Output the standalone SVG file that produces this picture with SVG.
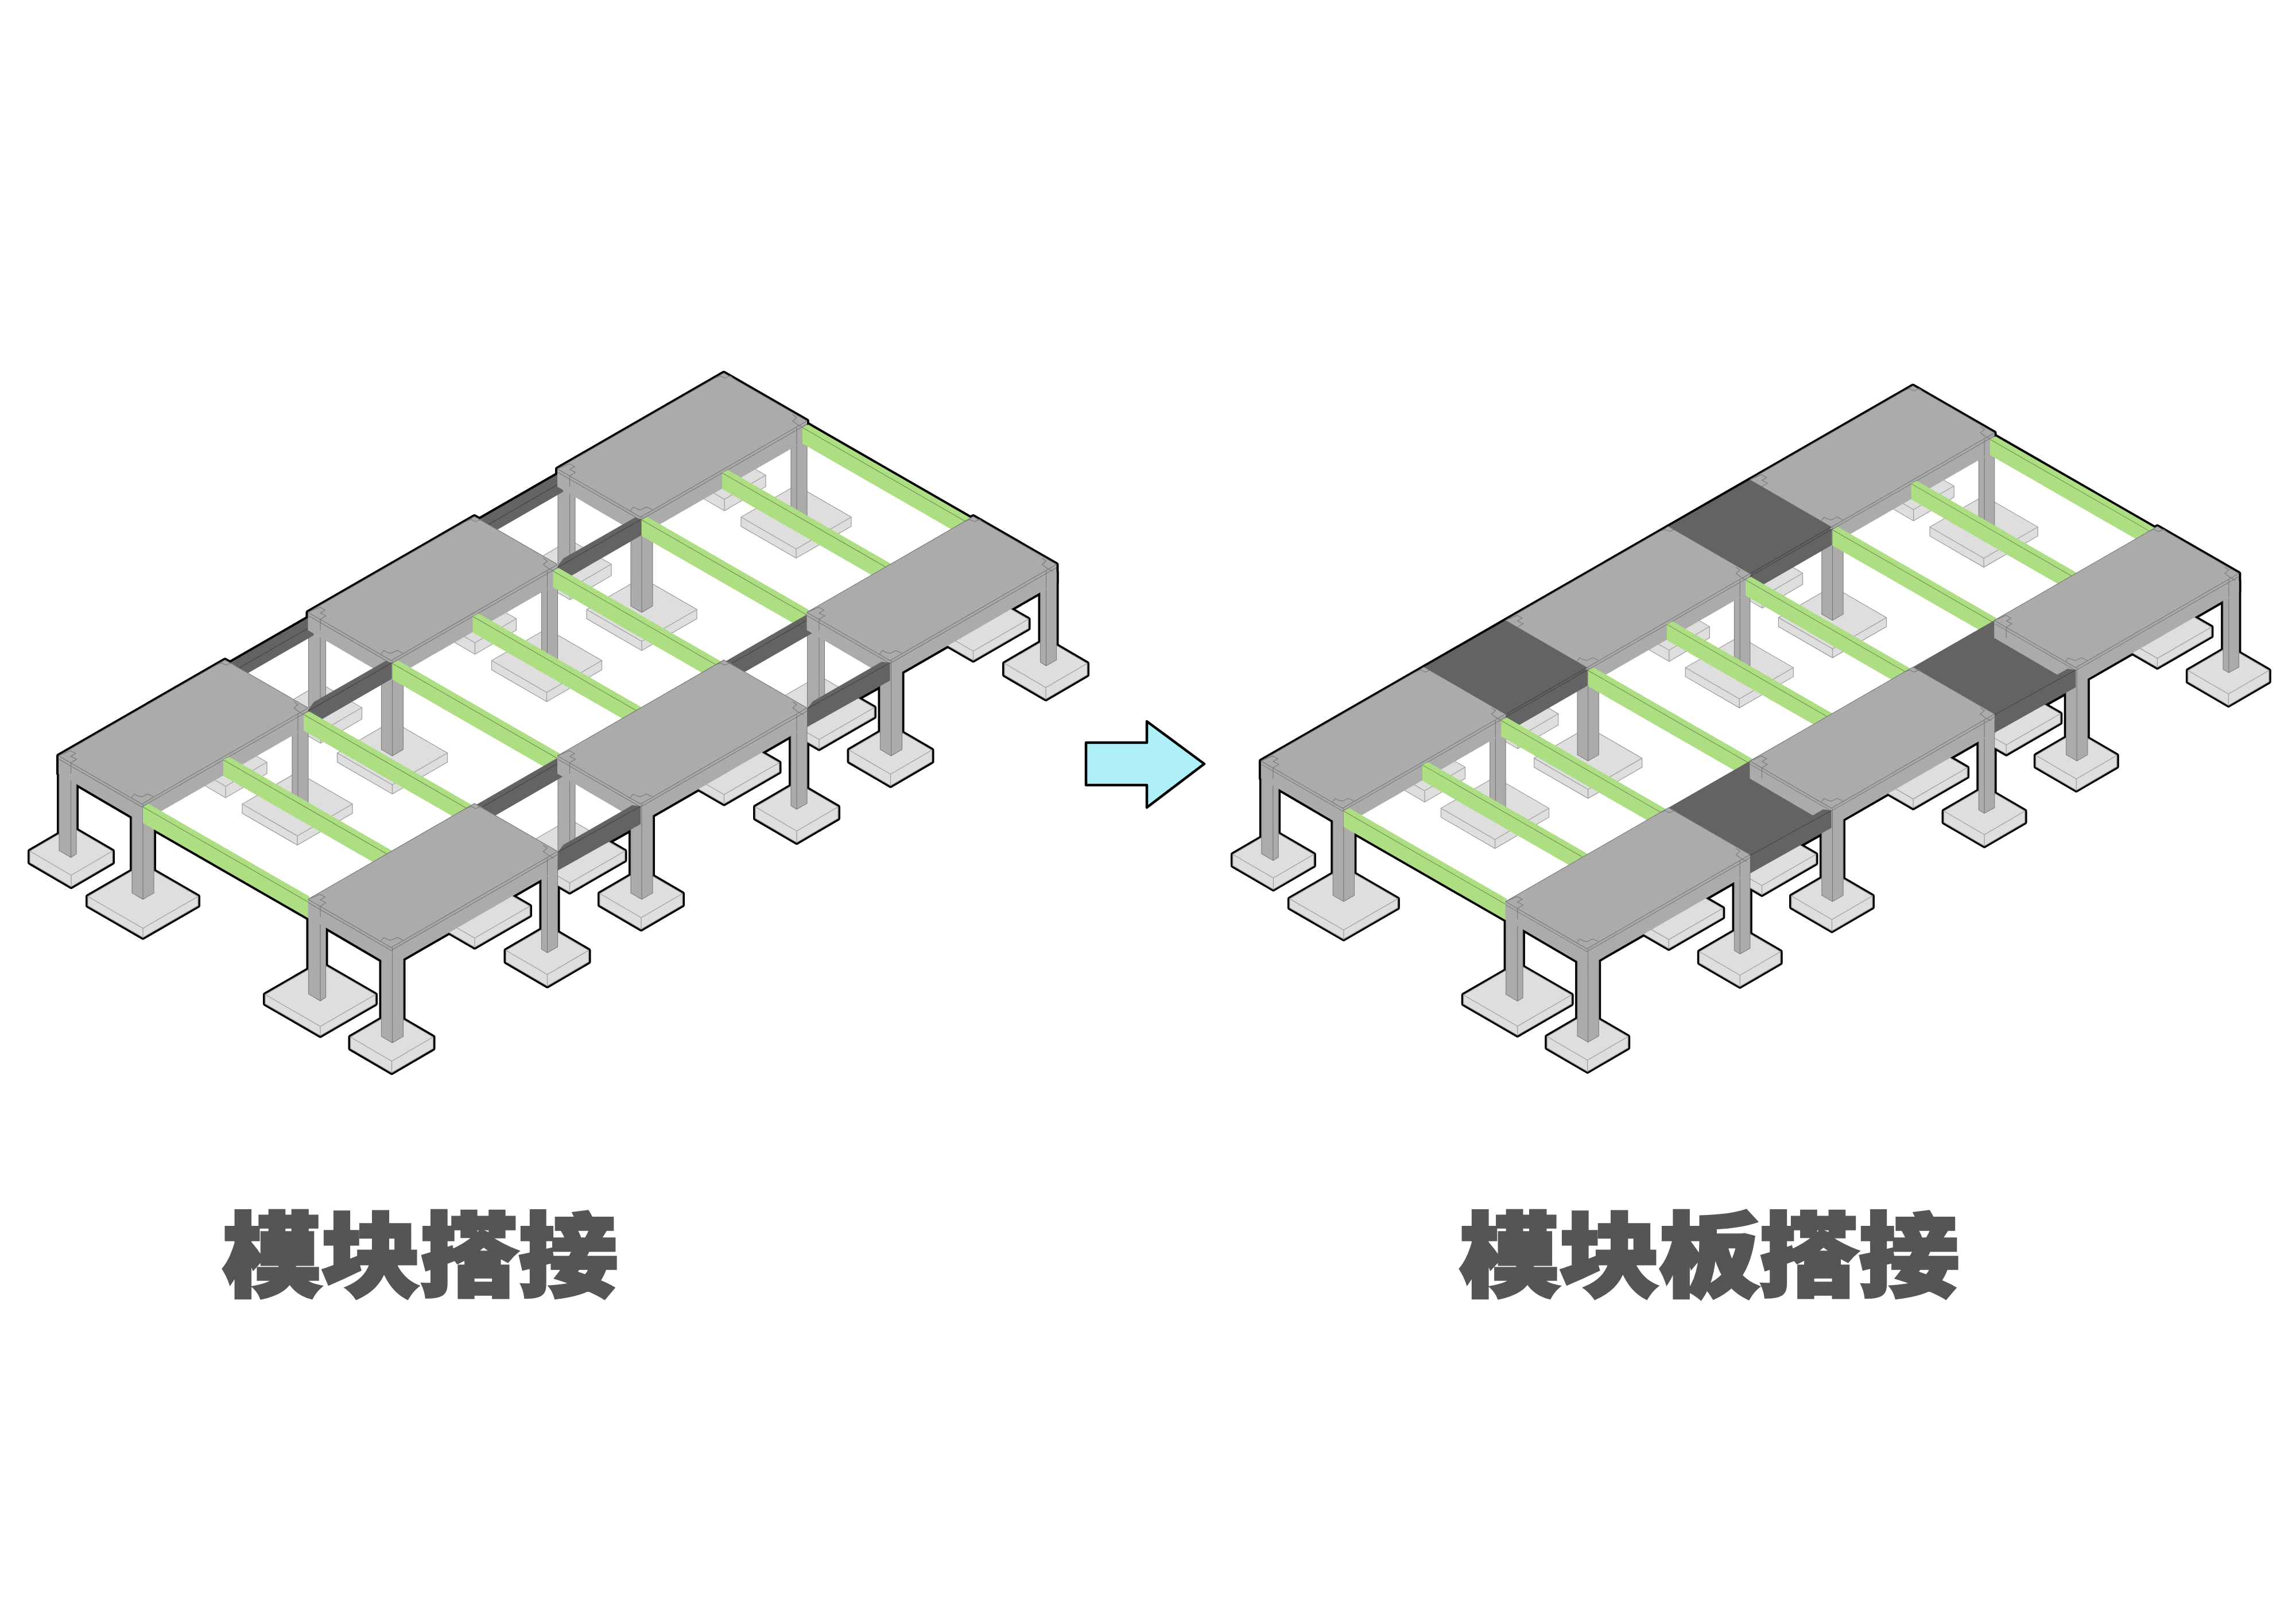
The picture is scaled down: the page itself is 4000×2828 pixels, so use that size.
<svg xmlns="http://www.w3.org/2000/svg" width="4000" height="2828" viewBox="0 0 4000 2828">
<style>
.gy{fill:#ABABAB}
.cs{fill:#ABABAB;stroke:#7d7d7d;stroke-width:1.1}
.ln{fill:none;stroke:#777;stroke-width:1.1}
.pad{fill:#DEDEDE;stroke:#A0A0A0;stroke-width:1.3}
.pl{fill:none;stroke:#A0A0A0;stroke-width:1.3}
.gr{fill:#AEDE82}
.grl{fill:none;stroke:#6E8F58;stroke-width:1.1}
.dk{fill:#636363}
.dkl{fill:none;stroke:#434343;stroke-width:1.1}
.lab{font-family:"Noto Sans CJK SC","Noto Sans CJK JP",sans-serif;font-weight:900;fill:#555;stroke:#555;stroke-width:6;stroke-linejoin:miter}
</style>
<defs>
<polygon id="po" points="-96,0 0,-55.5 96,0 96,16 0,71.5 -96,16"/>
<polygon id="qo" points="-72,0 0,-42 72,0 72,20 0,62 -72,20"/>
<g id="pb"><use href="#po" class="pad"/><path class="pl" d="M-96,0 0,55.5 96,0M0,55.5V71.5"/></g>
<g id="qb"><use href="#qo" class="pad"/><path class="pl" d="M-72,0 0,42 72,0M0,42V62"/></g>
<path id="co" d="M1,0H31V171L21.5,177 1,165ZM128,80H166V239L147,250 128,239ZM407,-70H435V83L417,93 407,87Z"/>
<g id="cols"><use href="#co" class="cs"/><path class="ln" d="M21.5,13V177M147,84V250M417,-73V93"/></g>
<polygon id="hx" points="0,0 290,-167 435,-83.5 435,-51 145,116 0,31"/>
<g id="mod"><use href="#hx" class="gy"/><path class="ln" d="M0,0 145,84 435,-83.5M0,0 290,-167 435,-83.5M1,6 145,89 435,-78M21.5,13V31M147,84V116M417,-73V-42M0,0 21,-9 30,-4 21.5,1 31.5,6 21.5,12M127,73 132,66.4 138.3,69.7 145,71.4 155,66.4 165,70.7M274,-158 284,-162 292,-158 301,-162 309,-156M410,-94.5 417,-89.5 410,-83.5 419,-76.5 429,-71.5"/></g>

<g id="greenShapes">
<polygon points="249,1406 259,1400.8 539,1561.9 539,1600.9 249,1434"/>
<polygon points="389,1324 399,1318.8 700,1492 700,1531 389,1352"/>
<polygon points="529,1245 539,1239.8 840,1413 840,1452 529,1273"/>
<polygon points="683.5,1156 693.5,1150.8 975,1312.8 975,1351.8 683.5,1184"/>
<polygon points="823.5,1074 833.5,1068.8 1134.5,1242 1134.5,1281 823.5,1102"/>
<polygon points="963.5,995 973.5,989.8 1274.5,1163 1274.5,1202 963.5,1023"/>
<polygon points="1118,906 1128,900.8 1409.5,1062.8 1409.5,1101.8 1118,934"/>
<polygon points="1258,824 1268,818.8 1569,992 1569,1031 1258,852"/>
<polygon points="1398,745 1408,739.8 1705,910.7 1705,949.7 1398,773"/>
</g>
<g id="greens"><use href="#greenShapes" class="gr"/>
<path class="grl" d="M249,1406 539,1572.9M389,1324 700,1503M529,1245 840,1424M683.5,1156 975,1323.8M823.5,1074 1134.5,1253M963.5,995 1274.5,1174M1118,906 1409.5,1073.8M1258,824 1569,1003M1398,745 1705,921.7"/></g>

<g id="d145Shapes"><polygon points="537,1236 547,1223 672,1151.5 682.5,1155 682.5,1183 537,1267"/><polygon points="971.5,986 981.5,973 1106.5,901.5 1117,905 1117,933 971.5,1017"/></g>
<g id="d579Shapes"><polygon points="971.5,1485 981.5,1472 1101.5,1403 1116,1405 1116,1436 971.5,1517"/><polygon points="1406,1235 1416,1222 1536,1153 1550.5,1155 1550.5,1186 1406,1267"/></g>
<g id="d0Shapes"><polygon points="392,1160 546.5,1071 546.5,1107 392,1196"/><polygon points="826.5,910 981,821 981,857 826.5,946"/></g>
<g id="d434Shapes"><polygon points="826.5,1404 981,1315 981,1353 826.5,1442"/><polygon points="1261,1154 1415.5,1065 1415.5,1103 1261,1192"/></g>
<g id="sBackShapes"><polygon points="392,1150 536.5,1067 681.5,1151 537,1234"/><polygon points="826.5,900 971,817 1116,901 971.5,984"/></g>
<g id="sFrontShapes"><polygon points="826.5,1400 971,1317 1116,1401 971.5,1484"/><polygon points="1261,1150 1405.5,1067 1550.5,1151 1406,1234"/></g>

<g id="silBase">
<use href="#po" x="1387" y="901"/><use href="#po" x="1118" y="1062"/><use href="#po" x="1695.5" y="1079"/><use href="#po" x="952.5" y="1151"/><use href="#po" x="1427" y="1233"/><use href="#po" x="683.5" y="1312"/><use href="#po" x="1261.5" y="1329"/><use href="#po" x="518" y="1401"/><use href="#po" x="992.5" y="1483"/><use href="#po" x="249" y="1562"/><use href="#po" x="827" y="1579"/><use href="#po" x="558" y="1733"/>
<use href="#qo" x="1262" y="828"/><use href="#qo" x="993" y="983"/><use href="#qo" x="827.5" y="1078"/><use href="#qo" x="1822" y="1156"/><use href="#qo" x="558.5" y="1233"/><use href="#qo" x="1551.5" y="1307"/><use href="#qo" x="393" y="1328"/><use href="#qo" x="1388" y="1406"/><use href="#qo" x="124" y="1483"/><use href="#qo" x="1117" y="1557"/><use href="#qo" x="953.5" y="1656"/><use href="#qo" x="682.5" y="1807"/>
<use href="#co" x="971" y="817"/><use href="#co" x="536.5" y="1067"/><use href="#co" x="102" y="1317"/><use href="#co" x="1405.5" y="1067"/><use href="#co" x="971" y="1317"/><use href="#co" x="536.5" y="1567"/>
<use href="#hx" x="971" y="817"/><use href="#hx" x="536.5" y="1067"/><use href="#hx" x="102" y="1317"/><use href="#hx" x="1405.5" y="1067"/><use href="#hx" x="971" y="1317"/><use href="#hx" x="536.5" y="1567"/>
<use href="#greenShapes"/><use href="#d145Shapes"/><use href="#d579Shapes"/>
</g>

<g id="lower">
<use href="#qb" x="1262" y="828"/><use href="#pb" x="1387" y="901"/><use href="#qb" x="993" y="983"/><use href="#pb" x="1118" y="1062"/><use href="#qb" x="827.5" y="1078"/><use href="#pb" x="1695.5" y="1079"/><use href="#pb" x="952.5" y="1151"/><use href="#qb" x="1822" y="1156"/><use href="#qb" x="558.5" y="1233"/><use href="#pb" x="1427" y="1233"/><use href="#qb" x="1551.5" y="1307"/><use href="#pb" x="683.5" y="1312"/><use href="#qb" x="393" y="1328"/><use href="#pb" x="1261.5" y="1329"/><use href="#pb" x="518" y="1401"/><use href="#qb" x="1388" y="1406"/><use href="#qb" x="124" y="1483"/><use href="#pb" x="992.5" y="1483"/><use href="#qb" x="1117" y="1557"/><use href="#pb" x="249" y="1562"/><use href="#pb" x="827" y="1579"/><use href="#qb" x="953.5" y="1656"/><use href="#pb" x="558" y="1733"/><use href="#qb" x="682.5" y="1807"/>
<use href="#cols" x="971" y="817"/><use href="#cols" x="536.5" y="1067"/><use href="#cols" x="102" y="1317"/><use href="#cols" x="1405.5" y="1067"/><use href="#cols" x="971" y="1317"/><use href="#cols" x="536.5" y="1567"/>
</g>
<g id="backMods"><use href="#mod" x="971" y="817"/><use href="#mod" x="536.5" y="1067"/><use href="#mod" x="102" y="1317"/></g>
<g id="frontMods"><use href="#mod" x="1405.5" y="1067"/><use href="#mod" x="971" y="1317"/><use href="#mod" x="536.5" y="1567"/></g>
<g id="d145"><use href="#d145Shapes" class="dk"/><path class="dkl" d="M537,1238.8 682.5,1155M971.5,988.8 1117,905"/></g>
<g id="d579"><use href="#d579Shapes" class="dk"/><path class="dkl" d="M971.5,1485 1116,1405M1406,1235 1550.5,1155"/></g>
<polygon id="hole" fill="#fff" points="1261,675 1819,996 673,1655.6 115,1334.5"/>
</defs>

<g id="module-lap">
<g fill="#000" stroke="#000" stroke-width="8" stroke-linejoin="round"><use href="#silBase"/><use href="#d0Shapes"/><use href="#d434Shapes"/></g>
<use href="#hole"/>
<use href="#lower"/>
<g id="left-back-beams"><use href="#d0Shapes" class="dk"/><path class="dkl" d="M392,1178 546.5,1089M826.5,928 981,839"/></g>
<use href="#backMods"/>
<use href="#d145"/>
<use href="#greens"/>
<g id="left-mid-beams"><use href="#d434Shapes" class="dk"/><path class="dkl" d="M826.5,1414 981,1325M1261,1164 1415.5,1075"/></g>
<use href="#frontMods"/>
<use href="#d579"/>
</g>

<g id="arrow"><polygon points="1892,1294 1998,1294 1998,1257 2098,1331 1998,1407 1998,1368 1892,1368" fill="#AFF0F8" stroke="#000" stroke-width="4.5" stroke-linejoin="round"/></g>

<g id="slab-lap" transform="translate(2096.84 35.34) scale(.98)">
<g fill="#000" stroke="#000" stroke-width="8" stroke-linejoin="round"><use href="#silBase"/><use href="#sBackShapes"/><use href="#sFrontShapes"/></g>
<use href="#hole"/>
<use href="#lower"/>
<use href="#backMods"/>
<use href="#d145"/>
<g id="right-back-slabs"><use href="#sBackShapes" class="dk"/><path class="dkl" d="M537,1234 681.5,1151M971.5,984 1116,901"/></g>
<use href="#greens"/>
<g id="right-front-slabs"><use href="#sFrontShapes" class="dk"/><path class="dkl" d="M971.5,1484 1116,1401M1406,1234 1550.5,1151"/></g>
<use href="#frontMods"/>
<use href="#d579"/>
</g>

<g id="labels">
<text class="lab" font-size="172" transform="translate(388 2246) scale(1 .925)">模块搭接</text>
<text class="lab" font-size="174" transform="translate(2543 2246) scale(1 .915)">模块板搭接</text>
</g>
</svg>
